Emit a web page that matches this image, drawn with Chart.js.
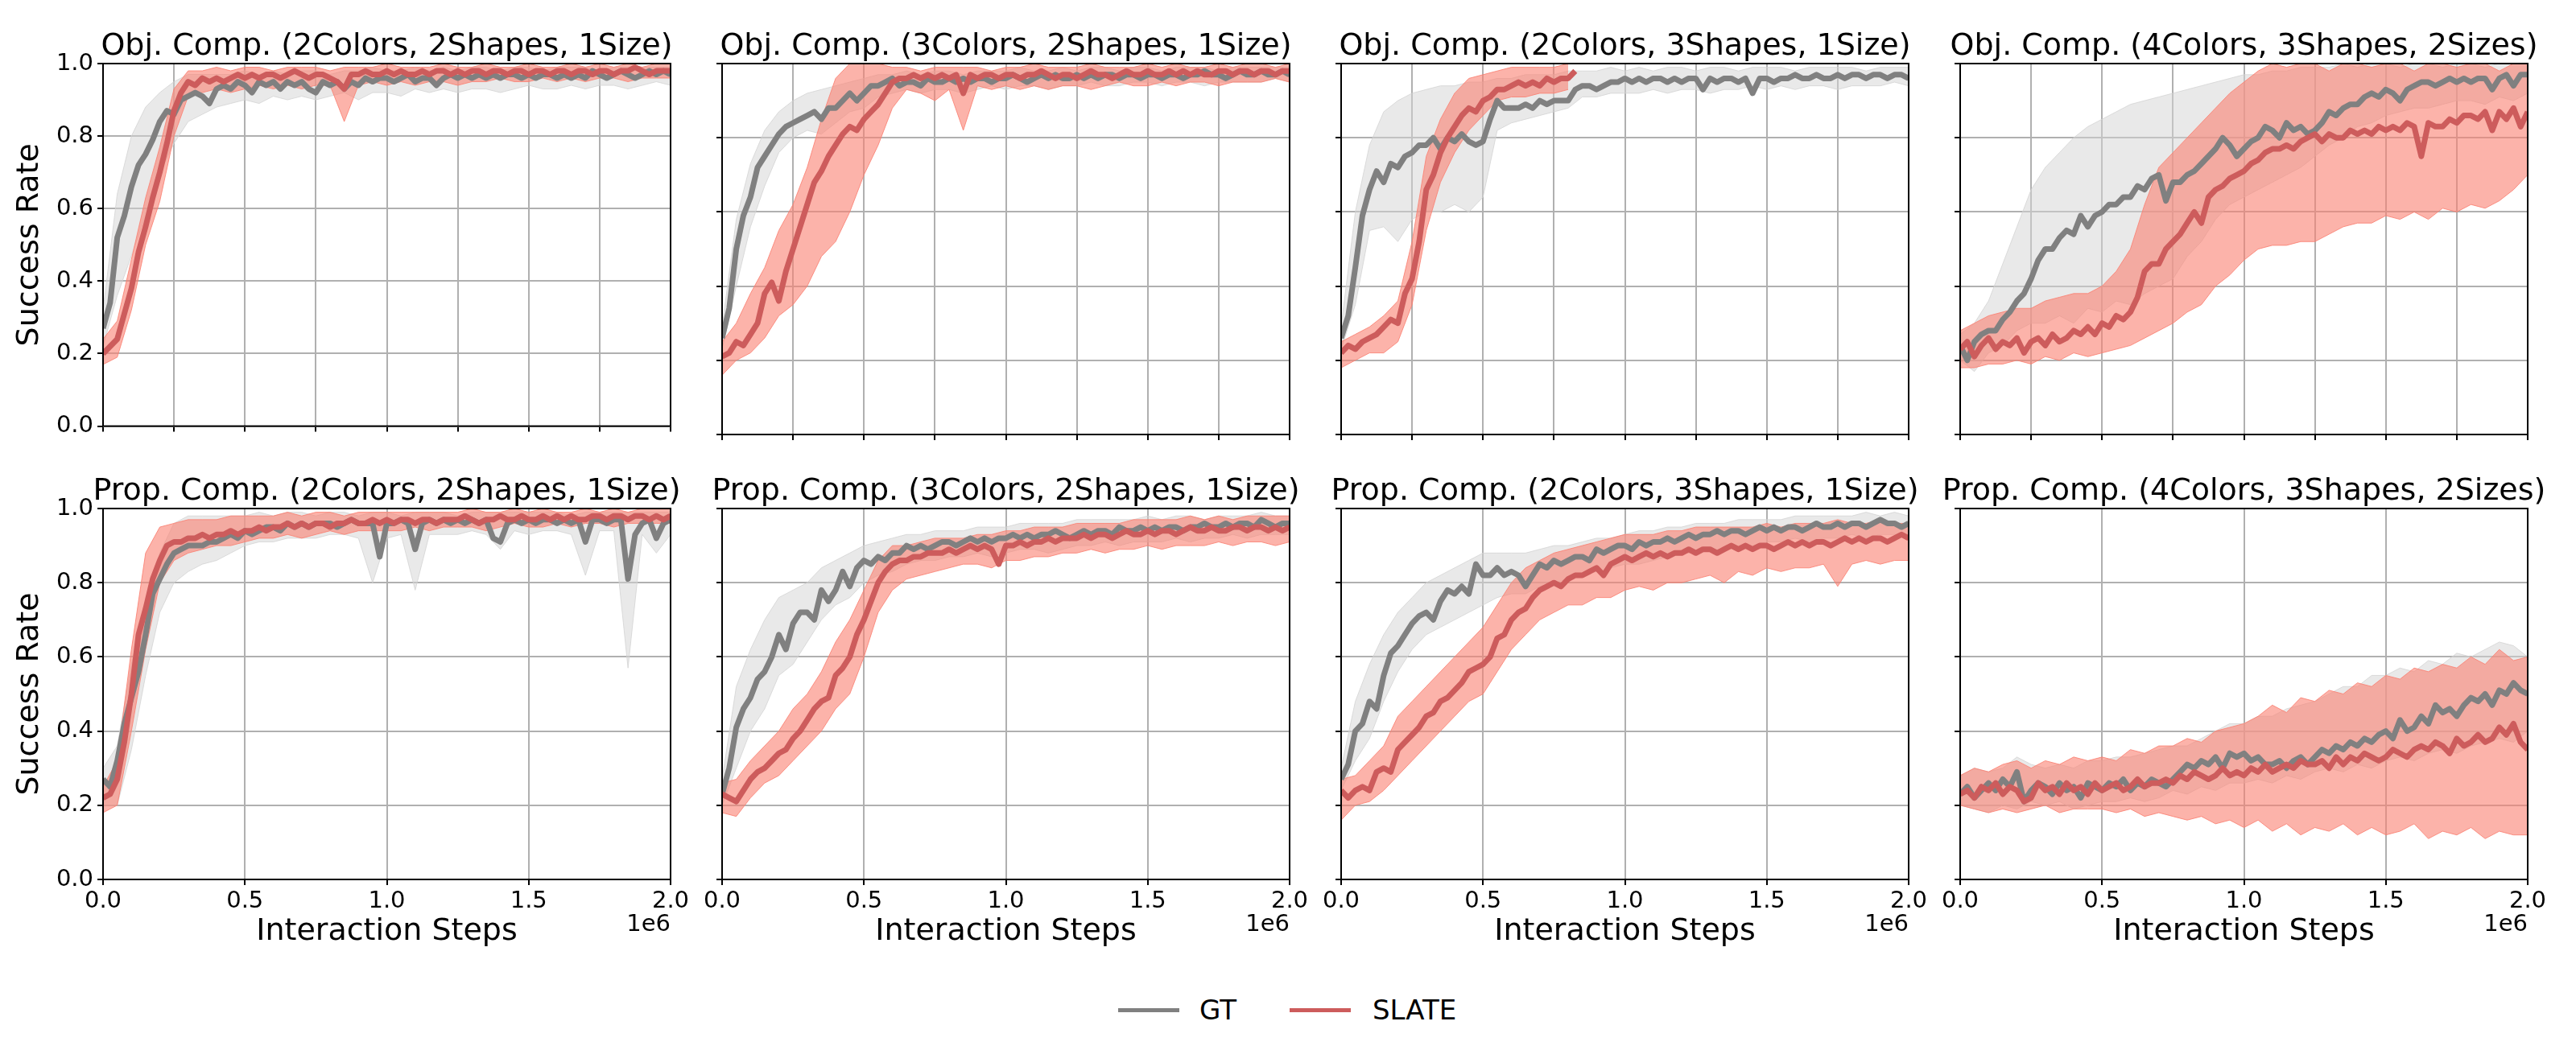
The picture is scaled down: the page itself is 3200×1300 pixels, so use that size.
<!DOCTYPE html>
<html>
<head>
<meta charset="utf-8">
<script src="https://cdn.jsdelivr.net/npm/chart.js@4.4.1/dist/chart.umd.min.js"></script>
<style>
html, body { margin: 0; padding: 0; background: #fff; }
body { width: 3200px; height: 1300px; position: relative; overflow: hidden; font-family: 'DejaVu Sans', sans-serif; }
canvas { position: absolute; }
.key { position: absolute; top: 1253px; width: 76px; height: 5px; }
.keytxt { position: absolute; top: 1234px; font-size: 34px; line-height: 42px; color: #000; }
</style>
</head>
<body>
<script>
// x positions, thousands of interaction steps
const stepsK = [0,25,50,75,100,125,150,175,200,225,250,275,300,325,350,375,400,425,450,475,500,525,550,575,600,625,650,675,700,725,750,775,800,825,850,875,900,925,950,975,1000,1025,1050,1075,1100,1125,1150,1175,1200,1225,1250,1275,1300,1325,1350,1375,1400,1425,1450,1475,1500,1525,1550,1575,1600,1625,1650,1675,1700,1725,1750,1775,1800,1825,1850,1875,1900,1925,1950,1975,2000];
const bandStepsK = [0,50,100,150,200,250,300,350,400,450,500,550,600,650,700,750,800,850,900,950,1000,1050,1100,1150,1200,1250,1300,1350,1400,1450,1500,1550,1600,1650,1700,1750,1800,1850,1900,1950,2000];

const titles = [
  'Obj. Comp. (2Colors, 2Shapes, 1Size)', 'Obj. Comp. (3Colors, 2Shapes, 1Size)',
  'Obj. Comp. (2Colors, 3Shapes, 1Size)', 'Obj. Comp. (4Colors, 3Shapes, 2Sizes)',
  'Prop. Comp. (2Colors, 2Shapes, 1Size)', 'Prop. Comp. (3Colors, 2Shapes, 1Size)',
  'Prop. Comp. (2Colors, 3Shapes, 1Size)', 'Prop. Comp. (4Colors, 3Shapes, 2Sizes)'
];
const seriesNames = ['GT', 'SLATE'];
const yTickLabels = ['0.0','0.2','0.4','0.6','0.8','1.0'];
const xTickLabels = ['0.0','0.5','1.0','1.5','2.0'];
const xAxisTitle = 'Interaction Steps';
const yAxisTitle = 'Success Rate';
const xOffsetLabel = '1e6';

// success rate in percent
const gtObj1 = [27,34,52,58,66,72,75,79,84,87,86,90,91,92,91,89,93,94,93,95,94,92,95,94,95,93,95,94,95,93,92,95,94,95,93,95,94,96,95,96,96,95,96,97,95,96,96,94,96,97,96,97,96,97,96,97,96,97,97,96,97,96,97,97,96,97,96,97,96,98,97,96,97,98,97,96,97,98,97,98,97];
const slObj1 = [20,22,24,31,38,48,55,63,70,78,87,92,95,94,96,95,96,95,96,97,96,97,96,97,97,96,97,98,97,96,97,97,96,95,93,97,97,98,97,97,98,97,98,97,97,98,97,98,98,97,98,97,98,98,97,98,98,97,98,98,97,98,98,97,98,98,97,98,98,97,98,98,97,98,98,99,98,97,98,98,98];
const gtObj1Lo = [22,36,47,58,70,78,84,86,88,89,90,89,91,90,91,90,91,92,90,92,92,91,93,92,93,92,93,93,92,93,94,93,93,94,93,94,94,93,94,95,94];
const gtObj1Hi = [32,64,80,88,92,95,97,97,97,97,98,97,98,97,98,98,97,98,98,99,98,98,99,98,99,98,99,99,98,99,99,98,99,99,99,98,99,99,99,99,99];
const slObj1Lo = [17,19,32,50,62,80,91,92,93,92,93,94,93,94,93,94,94,84,94,95,94,95,94,95,95,94,95,95,96,95,95,96,95,96,95,96,96,95,96,96,96];
const slObj1Hi = [24,29,46,63,77,93,98,98,99,98,99,99,98,99,99,99,98,99,99,99,100,99,99,99,100,99,99,100,99,99,100,99,99,100,99,100,99,100,99,100,100];

const gtObj2 = [26,34,50,59,64,72,75,78,81,83,84,85,86,87,85,88,88,90,92,90,92,94,94,95,96,94,95,95,94,96,95,95,96,95,96,95,96,96,95,96,96,97,96,95,96,97,96,97,96,96,97,96,97,96,97,97,96,97,97,96,97,97,96,97,97,96,97,97,98,97,97,96,97,98,97,97,98,97,97,98,97];
const slObj2 = [21,22,25,24,27,30,38,41,36,44,50,56,62,68,71,75,78,81,83,82,85,87,89,92,95,96,96,97,96,97,96,97,96,97,92,97,96,97,97,96,97,97,96,97,97,98,97,96,97,97,96,97,98,97,97,96,97,98,97,97,98,97,97,98,97,98,97,98,97,97,98,98,97,98,98,97,98,98,97,98,98];
const gtObj2Lo = [23,40,56,67,76,80,82,81,84,87,88,91,92,93,92,93,93,92,93,94,93,94,94,93,94,94,95,94,94,95,95,94,95,95,94,95,95,95,95,96,95];
const gtObj2Hi = [29,58,73,82,87,90,92,93,94,95,96,97,97,98,97,98,98,97,98,98,98,99,98,98,99,98,99,99,98,99,99,98,99,99,99,98,99,99,99,99,99];
const slObj2Lo = [16,20,22,26,32,35,40,48,52,60,70,78,88,93,92,90,93,82,94,93,94,93,94,93,94,94,93,94,95,94,94,95,94,95,95,94,95,95,95,96,95];
const slObj2Hi = [25,30,38,45,55,62,72,85,96,100,100,100,99,99,98,99,99,99,99,98,99,99,100,99,99,99,100,99,99,99,100,99,100,99,99,100,99,100,100,99,100];

const gtObj3 = [26,32,45,59,66,71,68,73,72,75,76,78,78,80,77,80,79,81,79,78,79,85,90,88,88,88,89,88,90,89,90,90,90,93,94,94,93,94,95,95,96,95,96,95,96,96,95,96,95,96,96,93,96,95,96,96,95,96,92,96,96,95,96,96,97,96,96,97,96,96,97,96,97,97,96,97,97,96,97,97,96];
const slObj3 = [22,24,23,25,26,27,29,31,30,38,42,52,66,70,76,80,83,86,88,87,90,91,93,93,94,95,94,95,94,96,95,96,96,98];
const gtObj3Lo = [23,35,55,56,52,58,60,60,62,60,64,82,84,85,86,87,88,91,91,92,92,92,93,92,93,93,92,93,93,94,93,94,93,94,94,93,94,94,94,95,94];
const gtObj3Hi = [29,60,78,87,90,92,93,94,94,95,95,96,96,97,97,97,98,98,98,99,98,99,98,99,99,98,99,99,98,99,99,99,98,99,99,99,99,98,99,99,99];
const slObj3Lo = [18,20,22,22,25,35,55,68,76,82,86,90,91,91,92,92,93];
const slObj3Hi = [25,27,29,32,36,52,75,85,92,96,97,98,99,99,99,99,100];

const gtObj4 = [24,20,25,27,28,28,31,33,36,38,42,47,50,50,53,55,54,59,56,59,60,62,62,64,64,67,66,69,70,63,68,68,70,71,73,75,77,80,78,75,77,79,80,83,82,80,84,82,83,81,82,84,87,86,88,89,89,91,92,91,93,92,90,93,94,95,95,94,95,96,95,96,95,96,96,93,96,97,94,97,97];
const slObj4 = [23,25,21,24,26,23,25,24,26,22,25,26,24,27,25,26,28,27,29,27,30,29,32,31,33,37,44,46,46,50,52,54,57,60,57,64,66,67,69,70,71,73,74,76,77,77,78,77,79,80,81,79,81,80,80,82,81,82,81,83,82,83,82,84,83,75,84,83,83,85,84,86,86,85,87,82,87,85,88,83,87];
const gtObj4Lo = [20,17,22,24,28,30,30,32,30,34,33,36,35,38,40,42,48,52,58,62,64,66,68,70,72,75,78,80,83,84,86,87,88,88,89,90,90,89,91,90,92];
const gtObj4Hi = [27,30,36,46,56,66,72,76,80,83,85,87,89,90,91,92,93,94,95,96,97,97,98,98,99,99,99,100,99,100,100,99,100,100,99,100,100,99,100,100,100];
const slObj4Lo = [18,18,19,19,20,19,21,20,22,21,22,23,24,26,28,30,33,35,40,43,47,50,51,51,52,52,54,56,57,57,59,58,60,58,61,60,62,61,63,66,70];
const slObj4Hi = [28,30,32,33,34,34,36,37,38,38,40,44,50,62,72,76,80,84,88,92,95,98,100,99,100,100,98,100,100,99,100,100,98,100,100,99,100,100,98,100,100];

const gtProp1 = [27,25,32,42,49,56,66,77,81,85,88,89,90,90,90,91,91,92,93,92,94,93,94,95,95,94,96,95,96,95,96,96,96,95,96,97,96,96,96,87,96,96,97,96,89,96,97,96,97,96,97,96,97,96,97,92,91,96,97,96,97,96,97,97,96,97,96,97,91,97,97,96,97,97,81,93,96,97,92,96,97];
const slProp1 = [22,23,27,37,50,66,73,81,86,90,91,91,92,92,93,92,93,93,94,93,94,94,95,94,95,95,96,95,96,95,96,96,95,96,96,97,96,96,97,96,97,96,97,97,96,97,97,96,97,97,97,98,97,96,97,97,98,97,97,98,97,97,98,97,98,97,98,97,97,98,98,97,98,98,97,98,98,97,98,97,98];
const gtProp1Lo = [20,20,35,55,72,80,83,85,86,88,90,91,91,92,92,92,93,93,92,80,92,93,78,93,93,93,94,93,89,94,93,94,94,93,82,94,94,57,93,88,93];
const gtProp1Hi = [30,36,58,75,88,96,98,98,98,98,98,99,98,99,99,98,99,99,98,99,99,98,99,99,99,98,99,99,99,99,99,99,99,98,99,99,99,99,99,99,99];
const slProp1Lo = [18,20,40,62,80,86,88,89,90,90,91,92,92,93,92,93,94,93,94,94,94,94,95,94,95,95,95,94,95,96,95,95,96,95,96,96,95,96,96,96,96];
const slProp1Hi = [25,32,62,88,95,96,97,97,97,98,98,98,98,99,98,99,99,98,99,99,99,99,99,99,99,99,100,99,99,100,99,100,99,99,100,99,100,99,100,100,100];

const gtProp2 = [23,30,41,46,49,54,56,60,66,62,69,72,72,70,78,75,78,83,79,84,86,85,87,86,88,88,90,89,90,89,90,91,91,90,91,92,91,92,91,92,92,93,92,93,92,93,93,94,93,92,93,94,93,94,94,93,95,94,94,95,94,95,94,95,95,94,95,95,96,95,95,96,95,96,96,95,97,96,95,96,96];
const slProp2 = [23,22,21,24,27,29,30,32,34,35,38,40,43,46,48,49,55,57,60,66,70,75,80,83,85,86,86,87,87,88,88,88,89,88,89,90,89,90,89,85,90,90,91,90,91,91,92,91,92,92,92,93,92,93,93,92,93,94,93,93,94,93,94,94,93,94,95,94,94,95,94,94,95,95,94,95,95,94,95,94,95];
const gtProp2Lo = [20,30,40,46,55,58,64,70,74,76,80,82,83,85,86,86,87,87,88,87,88,89,89,88,89,90,90,91,90,91,91,91,92,91,92,92,93,92,93,93,93];
const gtProp2Hi = [27,52,62,70,76,78,80,84,86,88,90,91,92,93,93,94,94,94,95,95,95,96,96,96,96,97,97,97,97,97,98,97,98,98,97,98,98,98,99,98,98];
const slProp2Lo = [18,17,22,26,28,32,36,40,46,50,60,72,78,81,82,83,84,85,85,84,86,86,87,87,88,88,89,88,89,89,90,89,90,90,90,91,90,91,91,90,91];
const slProp2Hi = [26,27,32,36,40,46,50,56,64,70,78,86,90,90,91,92,92,92,93,93,94,94,95,95,95,96,96,96,96,97,97,97,97,98,97,98,97,98,98,98,98];

const gtProp3 = [27,31,40,42,48,46,55,61,63,66,69,71,72,70,75,78,77,79,77,85,82,82,84,82,83,82,79,82,85,84,86,85,86,87,87,86,89,88,89,90,90,89,91,90,91,91,92,91,92,93,92,93,93,94,93,94,94,93,94,95,94,95,94,95,95,94,95,96,95,95,96,95,96,96,95,96,97,96,96,95,96];
const slProp3 = [24,22,24,25,24,29,30,29,35,37,39,41,44,45,48,49,51,53,56,57,58,60,65,66,70,72,73,76,78,79,80,79,81,82,82,83,84,82,85,86,87,86,87,88,87,88,87,88,88,89,88,89,89,88,89,90,89,90,89,90,90,89,90,91,90,91,90,91,91,90,91,92,91,92,91,92,92,91,92,93,92];
const gtProp3Lo = [24,32,38,48,56,62,66,68,70,72,74,76,77,77,79,80,81,82,83,84,85,85,86,87,88,88,89,89,90,90,91,91,92,91,92,92,93,92,93,93,93];
const gtProp3Hi = [30,48,58,66,72,76,80,82,84,86,88,88,88,88,89,90,90,91,92,92,93,94,94,95,95,96,96,96,97,97,97,97,98,98,98,98,98,99,98,99,98];
const slProp3Lo = [16,20,21,24,28,32,36,40,44,48,50,56,62,66,70,72,74,74,76,76,78,79,78,80,80,81,82,80,83,82,84,83,84,84,85,79,85,86,85,86,86];
const slProp3Hi = [27,28,32,36,44,48,52,56,60,64,68,74,80,84,86,88,89,90,91,92,93,93,93,94,94,95,95,95,95,95,96,95,96,96,96,97,96,96,97,96,96];

const gtProp4 = [23,25,22,24,26,24,27,25,29,21,24,26,25,23,26,24,25,22,26,25,24,26,25,27,24,26,25,27,26,25,27,29,31,30,32,31,33,30,34,33,34,32,33,31,31,32,30,32,33,31,33,35,34,36,35,37,36,38,37,39,40,38,43,40,41,44,42,47,45,46,44,47,49,48,50,47,51,50,53,51,50];
const slProp4 = [23,24,22,25,24,26,23,25,24,21,22,26,24,25,23,26,24,25,23,26,24,25,26,24,25,27,25,26,26,27,26,28,27,29,28,27,28,30,28,29,28,30,29,31,29,30,31,30,32,31,31,32,30,33,31,33,32,34,33,32,33,35,34,33,35,36,35,37,36,34,38,36,37,39,37,38,41,39,42,37,35];
const gtProp4Lo = [20,19,18,20,19,21,20,21,19,20,21,21,22,21,22,24,23,25,24,26,26,27,26,28,27,29,30,29,31,30,32,33,32,34,35,34,36,37,38,37,40];
const gtProp4Hi = [28,30,29,30,33,31,30,31,30,32,32,33,33,34,35,36,36,38,40,42,42,44,44,46,47,48,50,52,52,55,55,57,56,59,58,61,60,62,64,63,60];
const slProp4Lo = [20,19,18,19,18,19,20,18,19,19,19,18,19,17,18,17,16,17,15,16,14,16,13,15,12,14,13,15,12,14,12,13,15,11,13,12,14,11,13,12,12];
const slProp4Hi = [28,30,29,31,32,30,32,31,33,32,33,32,35,34,36,36,38,37,40,41,42,44,47,45,49,48,51,50,53,52,55,54,57,56,58,57,60,58,62,59,60];

const panels = [
  { gt: gtObj1, sl: slObj1, gtLo: gtObj1Lo, gtHi: gtObj1Hi, slLo: slObj1Lo, slHi: slObj1Hi },
  { gt: gtObj2, sl: slObj2, gtLo: gtObj2Lo, gtHi: gtObj2Hi, slLo: slObj2Lo, slHi: slObj2Hi },
  { gt: gtObj3, sl: slObj3, gtLo: gtObj3Lo, gtHi: gtObj3Hi, slLo: slObj3Lo, slHi: slObj3Hi },
  { gt: gtObj4, sl: slObj4, gtLo: gtObj4Lo, gtHi: gtObj4Hi, slLo: slObj4Lo, slHi: slObj4Hi },
  { gt: gtProp1, sl: slProp1, gtLo: gtProp1Lo, gtHi: gtProp1Hi, slLo: slProp1Lo, slHi: slProp1Hi },
  { gt: gtProp2, sl: slProp2, gtLo: gtProp2Lo, gtHi: gtProp2Hi, slLo: slProp2Lo, slHi: slProp2Hi },
  { gt: gtProp3, sl: slProp3, gtLo: gtProp3Lo, gtHi: gtProp3Hi, slLo: slProp3Lo, slHi: slProp3Hi },
  { gt: gtProp4, sl: slProp4, gtLo: gtProp4Lo, gtHi: gtProp4Hi, slLo: slProp4Lo, slHi: slProp4Hi }
];

const FONT = 'DejaVu Sans';
const GT_COLOR = '#808080';
const SL_COLOR = '#CD5C5C';
const GT_FILL = 'rgba(211,211,211,0.5)';
const SL_FILL = 'rgba(250,128,114,0.6)';
const GRID = '#b0b0b0';

// page layout of the 2x4 grid
const colLefts = [0, 769, 1538, 2307];
const rowTops = [29, 582];
const rowHeights = [523, 611];
const axisW = 128;

const toXY = (xs, ys) => ys.map((v, i) => ({ x: xs[i], y: v }));

const framePlugin = {
  id: 'frame',
  afterDraw(chart) {
    const a = chart.chartArea, c = chart.ctx;
    c.save();
    c.strokeStyle = '#000';
    c.lineWidth = 2;
    c.strokeRect(a.left, a.top, a.right - a.left, a.bottom - a.top);
    c.restore();
  }
};

const offsetPlugin = {
  id: 'offsetText',
  afterDraw(chart) {
    if (!chart.config.options.showOffset) return;
    const a = chart.chartArea, c = chart.ctx;
    c.save();
    c.font = '29px "' + FONT + '"';
    c.fillStyle = '#000';
    c.textAlign = 'right';
    c.textBaseline = 'middle';
    c.fillText(xOffsetLabel, a.right, a.bottom + 56);
    c.restore();
  }
};

panels.forEach((p, k) => {
  const row = Math.floor(k / 4), col = k % 4;
  const isLeft = col === 0, isBottom = row === 1;
  const cv = document.createElement('canvas');
  cv.width = 961;
  cv.height = rowHeights[row];
  cv.style.left = colLefts[col] + 'px';
  cv.style.top = rowTops[row] + 'px';
  cv.style.width = '961px';
  cv.style.height = rowHeights[row] + 'px';
  document.body.appendChild(cv);

  const band = (lo, hi, edge, fill, idx, order) => [
    { label: 'lo', data: toXY(bandStepsK, lo), borderColor: edge, borderWidth: 1, pointRadius: 0, fill: false, order },
    { label: 'hi', data: toXY(bandStepsK, hi), borderColor: edge, borderWidth: 1, pointRadius: 0, fill: idx, backgroundColor: fill, order }
  ];

  new Chart(cv, {
    type: 'line',
    data: {
      datasets: [
        ...band(p.gtLo, p.gtHi, 'rgba(211,211,211,0.8)', GT_FILL, 0, 4),
        ...band(p.slLo, p.slHi, 'rgba(250,128,114,0.85)', SL_FILL, 2, 3),
        { label: seriesNames[0], data: toXY(stepsK, p.gt), borderColor: GT_COLOR, borderWidth: 7, pointRadius: 0, fill: false, borderJoinStyle: 'round', order: 2 },
        { label: seriesNames[1], data: toXY(stepsK, p.sl), borderColor: SL_COLOR, borderWidth: 7, pointRadius: 0, fill: false, borderJoinStyle: 'round', order: 1 }
      ]
    },
    options: {
      responsive: false,
      animation: false,
      devicePixelRatio: 1,
      showOffset: isBottom,
      layout: { padding: { left: 0, right: 0, top: 10, bottom: 0 } },
      plugins: {
        legend: { display: false },
        tooltip: { enabled: false },
        title: {
          display: true, text: titles[k], color: '#000',
          font: { family: FONT, size: 38, weight: 'normal', lineHeight: 1.0 },
          padding: { top: 0, bottom: 2 }
        }
      },
      scales: {
        x: {
          type: 'linear', min: 0, max: 2000,
          afterFit(s) { s.height = isBottom ? 100 : 12; },
          ticks: {
            display: isBottom, stepSize: isBottom ? 500 : 250, autoSkip: false, maxRotation: 0,
            callback: v => xTickLabels[Math.round(v / 500)],
            color: '#000', font: { family: FONT, size: 29 }, padding: 3
          },
          grid: { color: GRID, lineWidth: 2, tickColor: '#000', tickLength: 7, tickWidth: 2 },
          border: { display: false },
          title: {
            display: isBottom, text: xAxisTitle, color: '#000',
            font: { family: FONT, size: 38, lineHeight: 1.2 },
            padding: { top: 0, bottom: 12 }
          }
        },
        y: {
          min: 0, max: 100,
          afterFit(s) { s.width = axisW; },
          ticks: {
            display: isLeft, stepSize: 20,
            callback: v => yTickLabels[Math.round(v / 20)],
            color: '#000', font: { family: FONT, size: 29 }, padding: 5
          },
          grid: { color: GRID, lineWidth: 2, tickColor: '#000', tickLength: 7, tickWidth: 2 },
          border: { display: false },
          title: {
            display: isLeft, text: yAxisTitle, color: '#000',
            font: { family: FONT, size: 38, lineHeight: 1.2 },
            padding: { top: 14, bottom: 0 }
          }
        },
        // empty right axis keeps the plot centred under its title
        yPad: {
          position: 'right', min: 0, max: 100,
          afterFit(s) { s.width = axisW; },
          ticks: { display: false },
          grid: { display: false, drawTicks: false },
          border: { display: false }
        }
      }
    },
    plugins: [framePlugin, offsetPlugin]
  });
});

// shared legend under the grid
const keyLefts = [1389, 1602];
const keyTextLefts = [1490, 1705];
[GT_COLOR, SL_COLOR].forEach((c, i) => {
  const sw = document.createElement('div');
  sw.className = 'key';
  sw.style.left = keyLefts[i] + 'px';
  sw.style.background = c;
  document.body.appendChild(sw);
  const t = document.createElement('div');
  t.className = 'keytxt';
  t.style.left = keyTextLefts[i] + 'px';
  t.textContent = seriesNames[i];
  document.body.appendChild(t);
});
</script>
</body>
</html>
